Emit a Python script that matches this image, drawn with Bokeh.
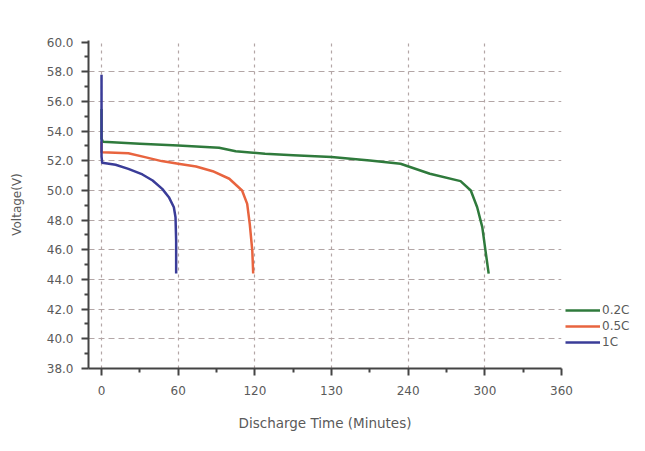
from bokeh.plotting import figure
from bokeh.models import (Range1d, NumeralTickFormatter, FixedTicker, Legend, LegendItem)
from bokeh.embed import file_html
from bokeh.resources import INLINE

# ---- data ----
t_02c = [0, 0, 1, 30, 60, 92, 105, 128, 150, 180, 210, 234, 257, 281, 289, 294, 298, 300.5, 303]
v_02c = [55.5, 53.5, 53.28, 53.15, 53.03, 52.88, 52.65, 52.47, 52.38, 52.25, 52.02, 51.8, 51.13, 50.63, 50.0, 48.87, 47.53, 45.95, 44.4]

t_05c = [0, 0, 0.5, 21, 34, 47, 60, 74, 87, 100, 110, 114, 116, 118, 118.7]
v_05c = [53.3, 52.6, 52.58, 52.51, 52.25, 51.98, 51.8, 51.62, 51.3, 50.79, 50.0, 49.1, 47.75, 45.95, 44.4]

t_1c = [0, 0, 0.5, 11, 21, 32, 40, 47.5, 52.7, 56.6, 57.9, 58.4, 58.4]
v_1c = [57.8, 52.3, 51.87, 51.73, 51.46, 51.08, 50.67, 50.11, 49.55, 48.87, 48.2, 46.6, 44.4]

series_names = ["0.2C", "0.5C", "1C"]
x_ticks = [0, 60, 120, 180, 240, 300, 360]
x_tick_labels = ["0", "60", "120", "130", "240", "300", "360"]
y_ticks = [38, 40, 42, 44, 46, 48, 50, 52, 54, 56, 58, 60]

FONT = "DejaVu Sans"
TXT = "#5a5a5a"
AX = "#444444"
GRID = "#b3a6a6"

p = figure(frame_width=473, frame_height=328, output_backend="svg", toolbar_location=None,
           x_range=Range1d(-10.2, 360), y_range=Range1d(38, 60.11),
           min_border_left=88, min_border_top=40, min_border_right=76, min_border_bottom=75)
p.outline_line_color = None
p.background_fill_color = "white"

# axes
p.xaxis.ticker = FixedTicker(ticks=x_ticks, minor_ticks=[30, 90, 150, 210, 270, 330])
p.xaxis.major_label_overrides = {t: l for t, l in zip(x_ticks, x_tick_labels)}
p.yaxis.ticker = FixedTicker(ticks=y_ticks, minor_ticks=[39, 41, 43, 45, 47, 49, 51, 53, 55, 57, 59])
p.yaxis.formatter = NumeralTickFormatter(format="0.0")
p.xaxis.axis_label = "Discharge Time (Minutes)"
p.yaxis.axis_label = "Voltage(V)"
for ax in (p.xaxis[0], p.yaxis[0]):
    ax.axis_line_color = AX
    ax.axis_line_width = 2
    ax.major_tick_line_color = AX
    ax.major_tick_line_width = 2
    ax.minor_tick_line_color = AX
    ax.minor_tick_line_width = 2
    ax.major_tick_out = 7
    ax.major_tick_in = 0
    ax.minor_tick_out = 4
    ax.minor_tick_in = 0
    ax.major_label_text_font = FONT
    ax.major_label_text_font_size = "12px"
    ax.major_label_text_color = TXT
    ax.axis_label_text_font = FONT
    ax.axis_label_text_font_style = "normal"
    ax.axis_label_text_color = TXT
p.xaxis.axis_label_text_font_size = "13.5px"
p.yaxis.axis_label_text_font_size = "12px"
p.xaxis.major_label_standoff = 10
p.xaxis.axis_label_standoff = 17
p.yaxis.major_label_standoff = 8
p.yaxis.axis_label_standoff = 20

# grids
p.xgrid.ticker = FixedTicker(ticks=[0, 60, 120, 180, 240, 300])
p.ygrid.ticker = FixedTicker(ticks=[40, 42, 44, 46, 48, 50, 52, 54, 56, 58])
p.xgrid.grid_line_color = GRID
p.xgrid.grid_line_dash = "3 4"
p.xgrid.grid_line_width = 1.2
p.ygrid.grid_line_color = GRID
p.ygrid.grid_line_dash = "6 4"
p.ygrid.grid_line_width = 1.2

r1 = p.line(t_02c, v_02c, line_color="#2f7a3c", line_width=2.5, line_join="round")
r2 = p.line(t_05c, v_05c, line_color="#e8643f", line_width=2.5, line_join="round")
r3 = p.line(t_1c, v_1c, line_color="#3a3c98", line_width=2.5, line_join="round")

legend = Legend(items=[LegendItem(label=series_names[0], renderers=[r1]),
                       LegendItem(label=series_names[1], renderers=[r2]),
                       LegendItem(label=series_names[2], renderers=[r3])],
                location=(4, 19), orientation="vertical")
legend.background_fill_alpha = 0
legend.border_line_color = None
legend.margin = 0
legend.padding = 0
legend.spacing = 2
legend.glyph_width = 35
legend.glyph_height = 14
legend.label_height = 14
legend.label_standoff = 2
legend.label_text_font = FONT
legend.label_text_font_size = "12px"
legend.label_text_color = TXT
p.add_layout(legend, "right")

open("out.html", "w").write(file_html(p, INLINE))
